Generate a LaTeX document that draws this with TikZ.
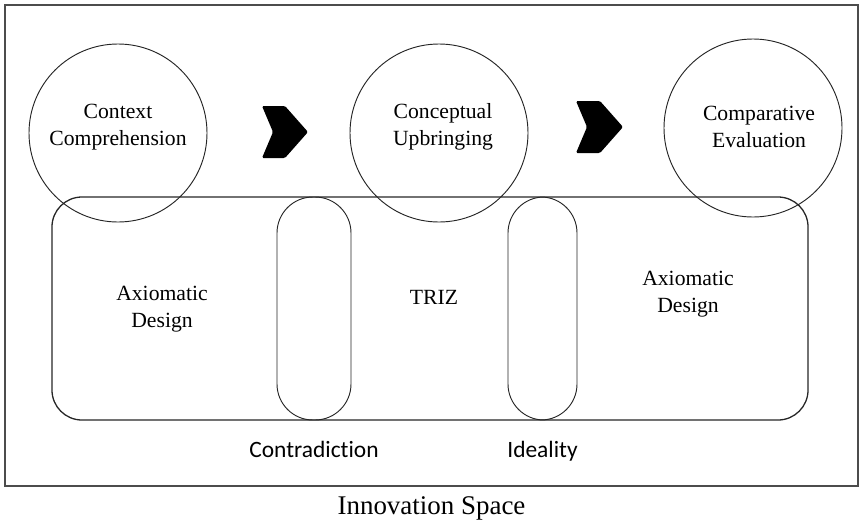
\documentclass[tikz,border=0pt]{standalone}
\usepackage{fontspec}
\setmainfont{Liberation Serif}
\newfontfamily\labelfont[Ligatures=NoCommon]{Carlito}
\usepackage{tikz}
\usetikzlibrary{positioning}

\begin{document}
\begin{tikzpicture}[
  x=0.03cm, y=-0.03cm,
  phase/.style={circle, draw=black!85, line width=0.8pt, minimum size=5.34cm,
    inner sep=0pt, align=center, font=\fontsize{18.5}{22.6}\selectfont},
  pill/.style={rectangle, draw=black!85, line width=0.8pt, rounded corners=1.08cm,
    minimum height=6.69cm, inner sep=0pt},
  tool/.style={align=center, font=\fontsize{18.5}{22.6}\selectfont},
  tag/.style={font=\labelfont\fontsize{20}{24}\selectfont},
  chev/.style={fill=black, rounded corners=1.2pt}
]
  \useasboundingbox (0,0) rectangle (867,525);

  % Outer frame
  \node[draw=black!70, line width=1.2pt, minimum width=25.59cm, minimum height=14.43cm,
    inner sep=0pt] (frame) at (431.5,245.5) {};

  % Working space with the two linking concepts
  \node[draw=black!85, line width=1.1pt, rounded corners=0.9cm, minimum width=22.68cm,
    minimum height=6.69cm, inner sep=0pt] (space) at (430,308.5) {};
  \node[pill, minimum width=2.22cm] (contra) at (314,308.5) {};
  \node[pill, minimum width=2.07cm] (ideal) at (542.5,308.5) {};

  % Phases
  \node[phase] (context) at (118,133) {};
  \node[phase] (concept) at (439,133) {};
  \node[phase] (compare) at (753,128) {};
  \node[tool] at (118,127) {Context\\Comprehension};
  \node[tool] at (443,127) {Conceptual\\Upbringing};
  \node[tool] at (759,127) {Comparative\\Evaluation};

  % Tools inside the space
  \node[tool] (axleft) at (162,309) {Axiomatic\\Design};
  \node[tool] (triz) at (434,297) {TRIZ};
  \node[tool] (axright) at (688,294) {Axiomatic\\Design};

  % Chevrons between the phases
  \fill[chev] (262,106) -- (285,106) -- (308,132) -- (285,158) -- (262,158)
    -- (273,132) -- cycle;
  \fill[chev] (576,101) -- (600,101) -- (623,127) -- (600,153) -- (576,153)
    -- (587,127) -- cycle;

  % Labels
  \node[tag, below=14pt of contra.south] (contralbl) {Contradiction};
  \node[tag, below=14pt of ideal.south] (ideallbl) {Ideality};
  \node[font=\fontsize{23}{27}\selectfont, below=5pt of frame.south] (caption) {Innovation Space};
\end{tikzpicture}
\end{document}
